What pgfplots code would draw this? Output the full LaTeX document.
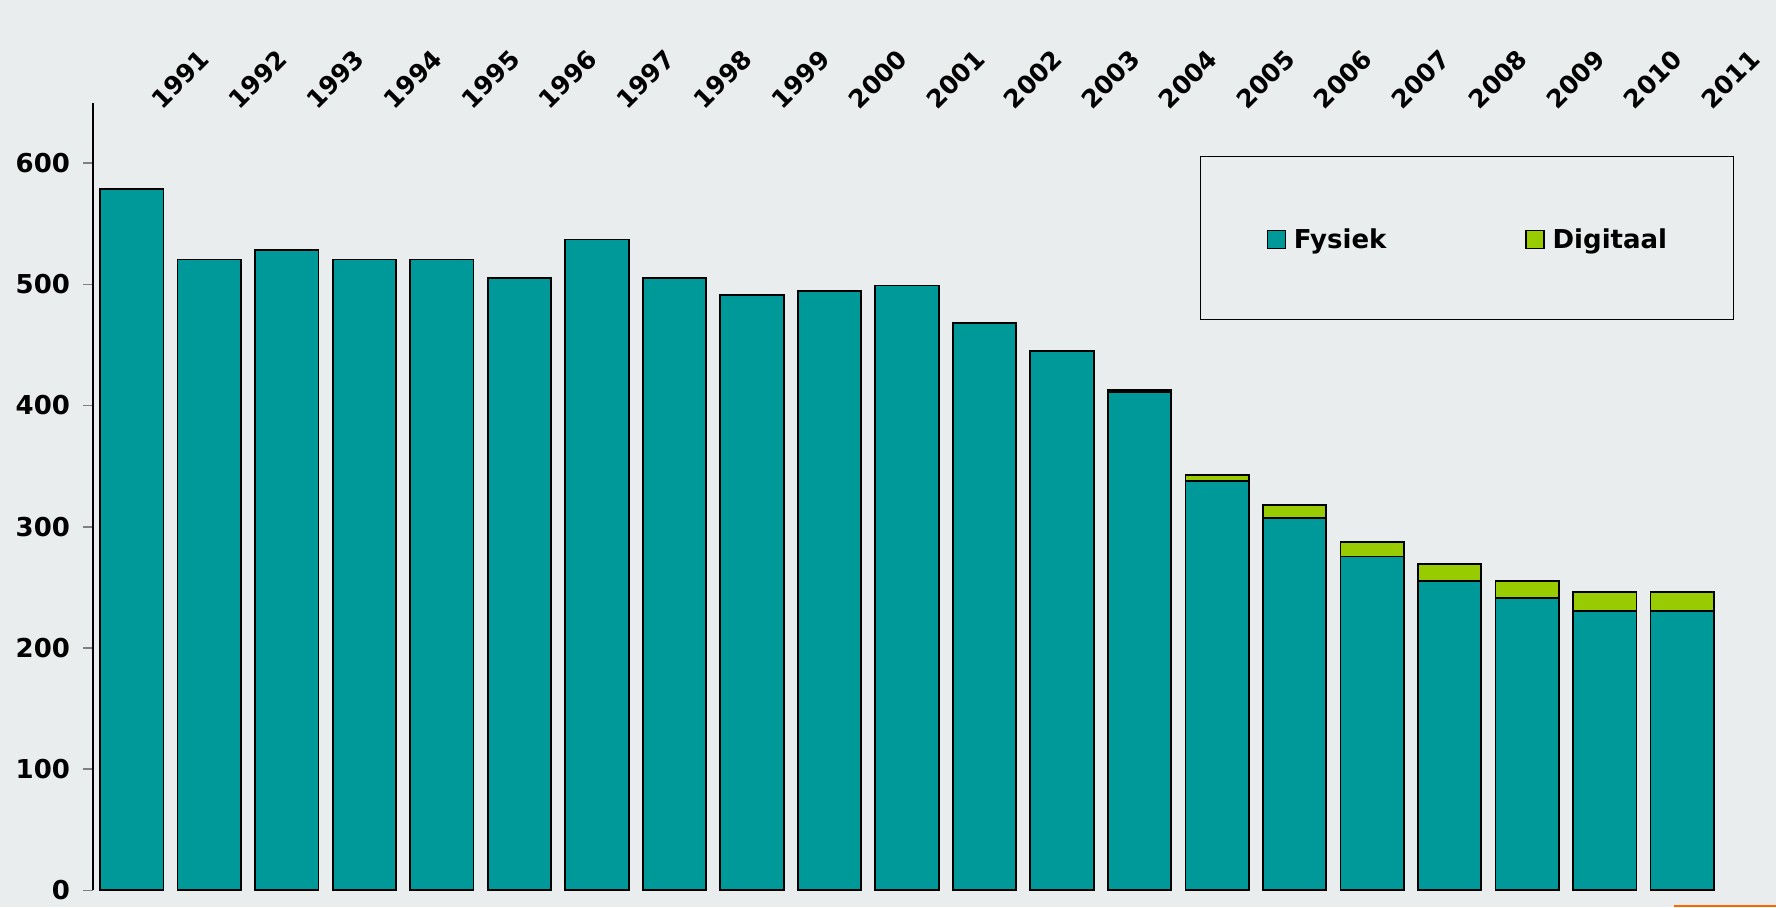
\documentclass[border=0pt]{standalone}
\usepackage{fontspec}
\setmainfont{DejaVu Sans}
\usepackage{pgfplots}
\pgfplotsset{compat=1.18}
\definecolor{bgc}{RGB}{233,237,238}
\definecolor{fysiekc}{RGB}{0,153,153}
\definecolor{digitc}{RGB}{153,204,0}
\definecolor{orangec}{RGB}{255,102,0}
\begin{document}
\begin{tikzpicture}
\fill[bgc] (-46.5pt,-8.35pt) rectangle (841.5pt,445.15pt);
\begin{axis}[
  at={(0,0)}, anchor=south west,
  width=814pt, height=393.9pt, scale only axis,
  ybar stacked, bar width=0.818,
  xmin=1990.5, xmax=2011.5, ymin=0, ymax=650,
  axis y line=left, axis x line=top,
  x axis line style={draw=none},
  axis line style={-, line width=0.8pt},
  xtick={1991,...,2011},
  ytick={0,100,...,600},
  xtick style={draw=none},
  ytick style={line width=0.8pt},
  tick align=outside, major tick length=5pt,
  /pgf/number format/assume math mode=true,
  /pgf/number format/1000 sep={},
  ticklabel style={font=\fontsize{13}{15}\selectfont\bfseries},
  yticklabel style={xshift=-3pt},
  xticklabel style={font=\fontsize{12.5}{15}\selectfont\bfseries, xshift=15pt, yshift=-9pt, rotate=45, anchor=base west, inner sep=0pt},
  legend columns=2,
  legend style={at={(0.680,0.932)}, anchor=north west, draw=black, line width=0.6pt, fill=none,
    inner xsep=33pt, inner ysep=33pt,
    font=\fontsize{13}{15}\selectfont\bfseries,
    nodes={inner sep=0pt, text height=13pt, text depth=2.6pt},
    /tikz/every odd column/.append style={column sep=4pt},
    /tikz/every even column/.append style={column sep=69.5pt}},
  legend image code/.code={\draw[#1, line width=0.6pt] (0pt,-5.3pt) rectangle (9pt,3.7pt);},
]
\addplot[fill=fysiekc, draw=black, line width=0.9pt] coordinates {
(1991,578.5) (1992,520.5) (1993,528) (1994,520.5) (1995,520.5) (1996,505.5) (1997,537)
(1998,505.5) (1999,491.5) (2000,494.5) (2001,499) (2002,468) (2003,445) (2004,411)
(2005,338) (2006,307.5) (2007,275.5) (2008,255) (2009,241.5) (2010,230.5) (2011,230.5)};
\addlegendentry{Fysiek}
\addplot[fill=digitc, draw=black, line width=0.9pt] coordinates {
(1991,0) (1992,0) (1993,0) (1994,0) (1995,0) (1996,0) (1997,0)
(1998,0) (1999,0) (2000,0) (2001,0) (2002,0) (2003,0) (2004,2)
(2005,4.5) (2006,10.5) (2007,12) (2008,14) (2009,14) (2010,15.8) (2011,15.8)};
\addlegendentry{Digitaal}
\end{axis}
\draw[orangec, line width=1.2pt] (790.5pt,-7.8pt) -- (841.5pt,-7.8pt);
\pgfresetboundingbox
\path[use as bounding box] (-46.5pt,-8.35pt) rectangle (841.5pt,445.15pt);
\end{tikzpicture}
\end{document}
